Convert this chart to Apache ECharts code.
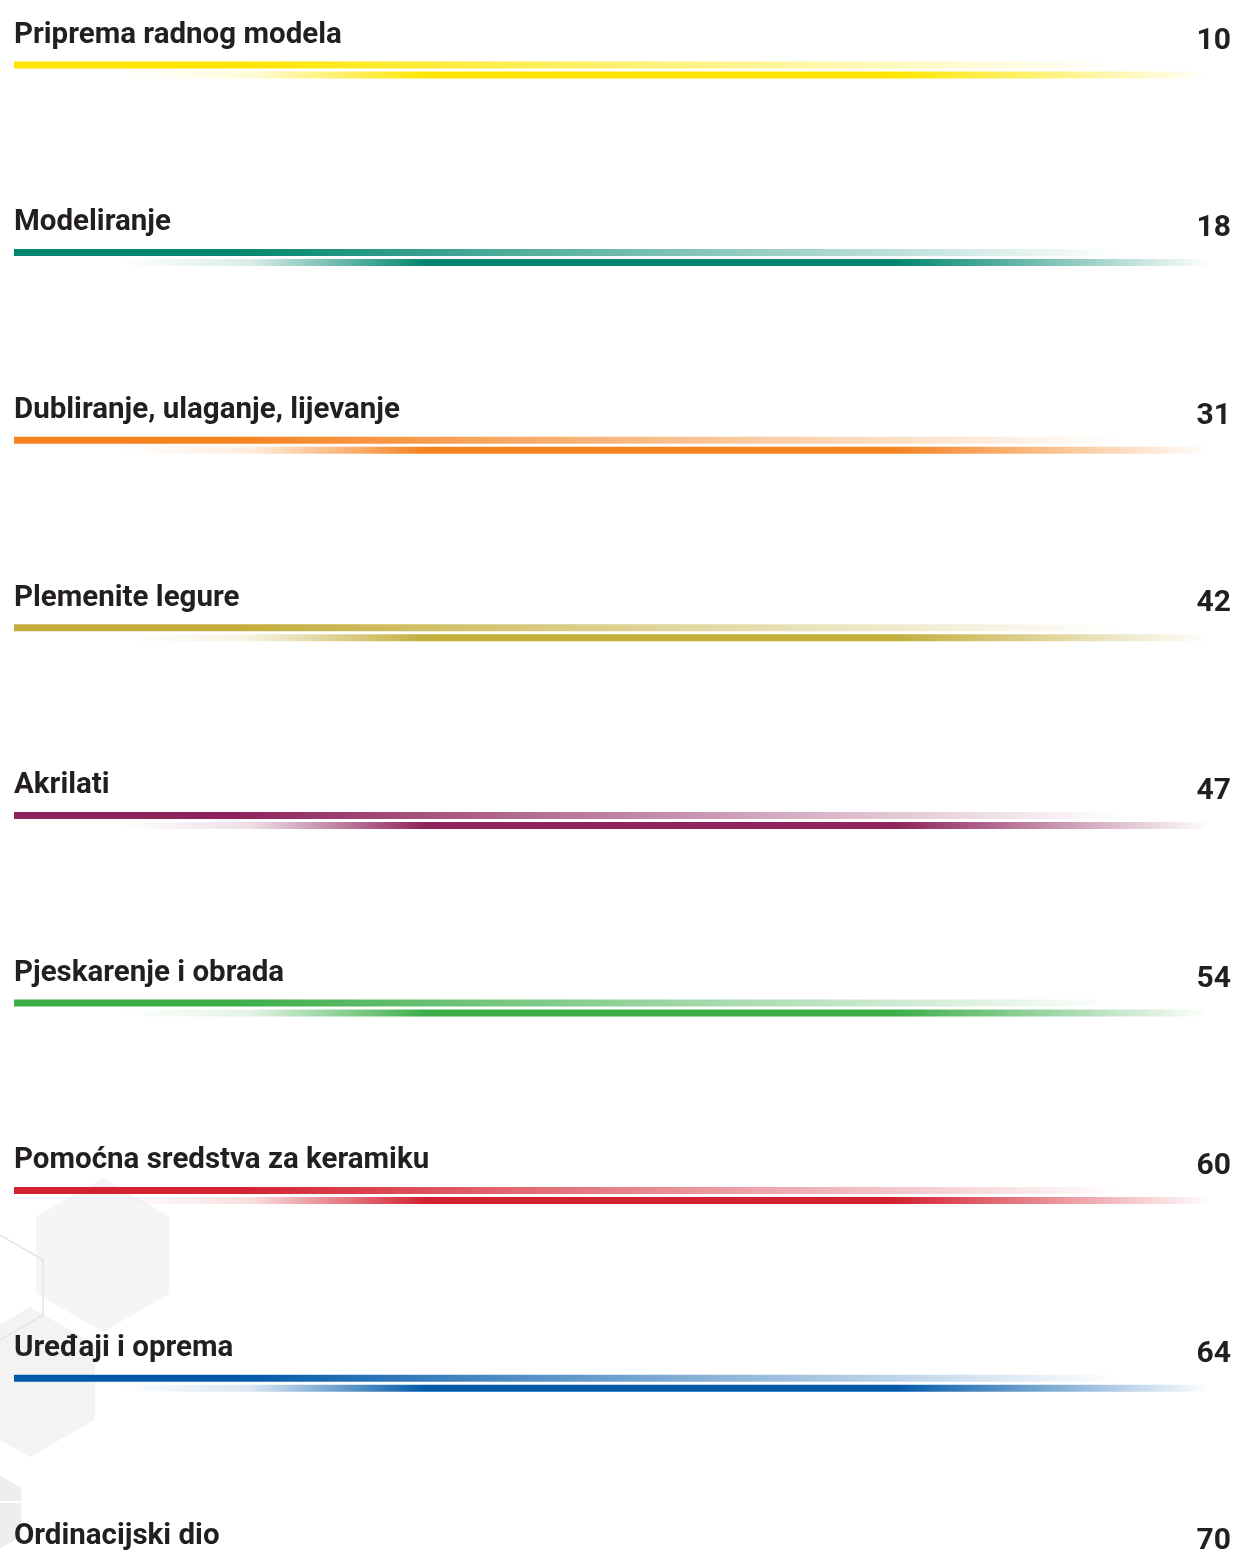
<!DOCTYPE html>
<html>
<head>
<meta charset="utf-8">
<script src="https://cdn.jsdelivr.net/npm/echarts@6/dist/echarts.min.js"></script>
<style>
html,body{margin:0;padding:0;background:#ffffff;}
#chart{width:1237px;height:1554px;}
</style>
</head>
<body>
<div id="chart"></div>
<script>
// ---- data ----
const categories = [
  'Priprema radnog modela',
  'Modeliranje',
  'Dubliranje, ulaganje, lijevanje',
  'Plemenite legure',
  'Akrilati',
  'Pjeskarenje i obrada',
  'Pomoćna sredstva za keramiku',
  'Uređaji i oprema',
  'Ordinacijski dio'
];
const pages = [10, 18, 31, 42, 47, 54, 60, 64, 70];
const sectionColors = ['#ffe600', '#00866e', '#f5821f', '#c3ad3b', '#8e245b', '#3dae4a', '#d3212f', '#0059a9', '#00a0c6'];

function rgba(hex, a) {
  const n = parseInt(hex.slice(1), 16);
  return 'rgba(' + ((n >> 16) & 255) + ',' + ((n >> 8) & 255) + ',' + (n & 255) + ',' + a + ')';
}

const chart = echarts.init(document.getElementById('chart'), null, {renderer: 'canvas'});

const seriesData = categories.map((c, i) => [i, pages[i], c]);

function hexPts(cx, cy, r) {
  const pts = [];
  for (let k = 0; k < 6; k++) {
    const ang = Math.PI / 180 * (60 * k - 90);
    pts.push([cx + r * Math.cos(ang), cy + r * Math.sin(ang)]);
  }
  return pts;
}

const option = {
  backgroundColor: '#ffffff',
  animation: false,
  grid: {left: 0, right: 0, top: 40.5, bottom: 12.7, containLabel: false},
  xAxis: {type: 'value', min: 0, max: 1237, show: false},
  yAxis: {type: 'value', min: 0, max: 8, inverse: true, show: false},
  graphic: [
    {type: 'polygon', z: -10, silent: true, shape: {points: hexPts(103, 1255, 77)}, style: {fill: '#f5f5f5'}},
    {type: 'polygon', z: -9, silent: true, shape: {points: hexPts(-4.6, 1287.5, 55)}, style: {fill: 'none', stroke: '#e4e4e4', lineWidth: 1.5}},
    {type: 'polygon', z: -10, silent: true, shape: {points: hexPts(30, 1382, 75)}, style: {fill: '#f3f3f3'}},
    {type: 'polygon', z: -10, silent: true, shape: {points: hexPts(-20, 1512, 48)}, style: {fill: '#eeeeee'}},
    {type: 'rect', z: -8, silent: true, shape: {x: 0, y: 1501, width: 30, height: 2}, style: {fill: '#ffffff'}}
  ],
  series: [{
    type: 'custom',
    coordinateSystem: 'cartesian2d',
    data: seriesData,
    encode: {x: 1, y: 0},
    clip: false,
    renderItem: function (params, api) {
      const i = api.value(0);
      const color = sectionColors[i];
      const base = api.coord([0, i])[1];
      const xL = api.coord([14, i])[0];
      const xTopR = api.coord([1120, i])[0];
      const xBotL = api.coord([120, i])[0];
      const xBotR = api.coord([1210, i])[0];
      const xNum = api.coord([1231, i])[0];
      return {
        type: 'group',
        children: [
          {
            type: 'rect',
            shape: {x: xL, y: base + 21, width: xTopR - xL, height: 7},
            style: {
              fill: new echarts.graphic.LinearGradient(0, 0, 1, 0, [
                {offset: 0, color: rgba(color, 1)},
                {offset: 0.2, color: rgba(color, 1)},
                {offset: 1, color: rgba(color, 0)}
              ])
            }
          },
          {
            type: 'rect',
            shape: {x: xBotL, y: base + 31, width: xBotR - xBotL, height: 7},
            style: {
              fill: new echarts.graphic.LinearGradient(0, 0, 1, 0, [
                {offset: 0, color: rgba(color, 0)},
                {offset: 0.12, color: rgba(color, 0.15)},
                {offset: 0.28, color: rgba(color, 1)},
                {offset: 0.71, color: rgba(color, 1)},
                {offset: 1, color: rgba(color, 0)}
              ])
            }
          },
          {
            type: 'text',
            style: {
              text: api.value(2),
              x: xL,
              y: base - 5,
              textAlign: 'left',
              textVerticalAlign: 'middle',
              fill: '#231f20',
              font: 'bold 29.5px Roboto'
            }
          },
          {
            type: 'text',
            style: {
              text: String(api.value(1)),
              x: xNum,
              y: base + 0.5,
              textAlign: 'right',
              textVerticalAlign: 'middle',
              fill: '#231f20',
              font: 'bold 30px Roboto'
            }
          }
        ]
      };
    }
  }]
};
chart.setOption(option);
</script>
</body>
</html>
